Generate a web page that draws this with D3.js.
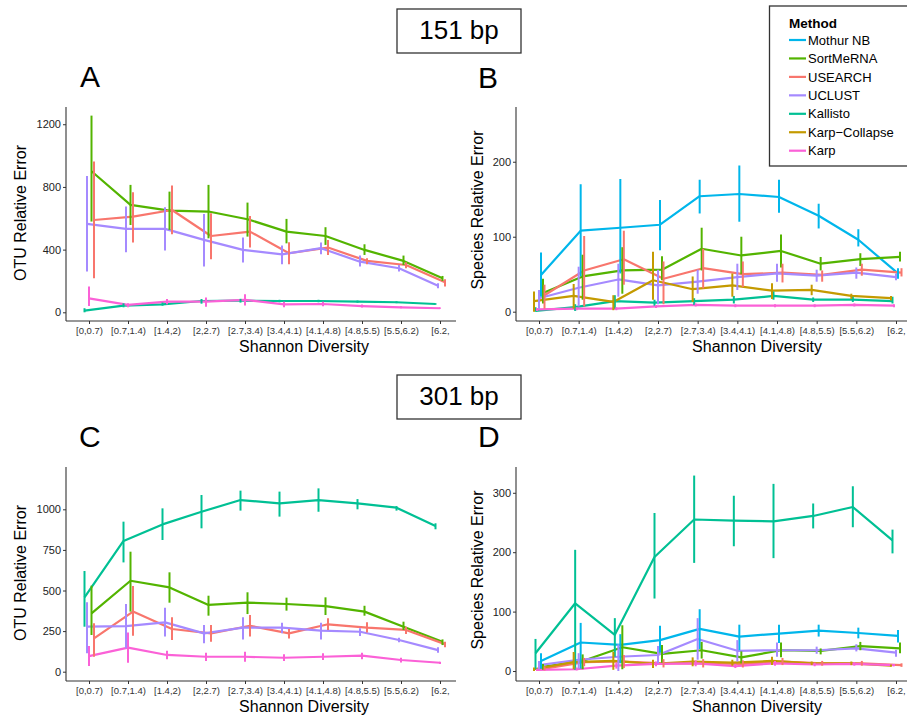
<!DOCTYPE html>
<html><head><meta charset="utf-8">
<script src="https://cdn.jsdelivr.net/npm/d3@7"></script>
<style>body{margin:0;background:#fff}svg{display:block;font-family:"Liberation Sans",Arial,sans-serif}</style>
</head><body><svg id="c" width="907" height="717"></svg>
<script>
// ---------- DATA ----------
const categories = ["[0,0.7)","[0.7,1.4)","[1.4,2)","[2,2.7)","[2.7,3.4)","[3.4,4.1)","[4.1,4.8)","[4.8,5.5)","[5.5,6.2)","[6.2,"];
const methods = ["Mothur NB","SortMeRNA","USEARCH","UCLUST","Kallisto","Karp-Collapse","Karp"];
const methodColors = ["#00B6EB","#53B400","#F8766D","#A58AFF","#00C094","#C49A00","#FB61D7"];
const yTicksA = [0,400,800,1200];
const yTicksB = [0,100,200];
const yTicksC = [0,250,500,750,1000];
const yTicksD = [0,100,200,300];

// each entry: [mean, low, high] per category
// Panel A: 151 bp, OTU relative error
const A_SortMeRNA = [[900,579,1255],[685,557,813],[649,526,770],[643,472,813],[594,483,700],[515,440,596],[487,430,543],[398,366,434],[328,302,362],[217,200,232]];
const A_USEARCH   = [[589,217,962],[611,445,766],[653,498,809],[487,338,632],[515,413,615],[377,306,447],[413,366,462],[328,306,345],[302,281,319],[192,164,211]];
const A_UCLUST    = [[564,260,870],[532,383,675],[532,394,670],[462,292,628],[398,317,477],[370,306,426],[409,370,445],[323,292,362],[281,260,302],[170,153,185]];
const A_Kallisto  = [[11,0,26],[43,32,57],[51,42,62],[72,55,85],[74,62,86],[72,64,80],[72,64,80],[68,61,75],[64,58,70],[53,48,58]];
const A_Karp      = [[89,40,164],[47,32,57],[68,51,85],[68,36,94],[79,43,115],[51,32,68],[53,38,68],[40,30,50],[32,26,38],[26,22,30]];

// Panel B: 151 bp, species relative error
const B_MothurNB   = [[49,20,79],[108,47,170],[112,51,177],[116,82,149],[154,131,176],[157,120,195],[153,132,176],[128,111,144],[96,87,110],[51,44,58]];
const B_SortMeRNA  = [[25,11,44],[47,16,76],[55,24,86],[56,42,74],[84,55,112],[75,50,100],[81,59,103],[64,55,73],[70,61,78],[73,67,80]];
const B_USEARCH    = [[22,4,36],[55,7,101],[70,36,108],[44,10,67],[58,31,84],[50,33,67],[52,39,64],[49,40,55],[56,48,64],[52,47,58]];
const B_UCLUST     = [[18,4,29],[32,7,60],[43,20,64],[35,10,56],[40,24,56],[46,29,64],[51,40,64],[48,40,56],[52,44,59],[46,42,51]];
const B_Kallisto   = [[1,0,6],[6,1,10],[14,4,22],[12,8,16],[14,9,18],[16,11,21],[21,16,27],[16,13,19],[16,13,20],[14,11,20]];
const B_KarpCollapse = [[14,0,27],[21,4,37],[13,2,22],[42,16,80],[30,13,47],[35,20,51],[28,17,38],[29,22,36],[21,17,24],[18,15,21]];
const B_Karp       = [[3,1,5],[4,2,6],[4,2,6],[7,5,9],[9,7,11],[8,6,10],[8,6,10],[8,6,10],[9,7,11],[8,6,10]];

// Panel C: 301 bp, OTU relative error
const C_SortMeRNA = [[359,226,530],[560,370,739],[519,425,612],[411,345,468],[425,355,489],[417,376,456],[404,349,458],[370,345,406],[277,257,308],[185,164,199]];
const C_USEARCH   = [[205,92,298],[370,222,528],[263,195,335],[236,185,287],[283,216,349],[236,205,263],[292,257,329],[271,242,304],[257,232,277],[170,150,185]];
const C_UCLUST    = [[277,113,427],[281,144,417],[304,216,394],[236,175,287],[271,199,335],[271,236,302],[253,199,302],[246,220,267],[195,181,209],[133,117,150]];
const C_Kallisto  = [[458,277,620],[805,673,924],[907,811,1006],[985,883,1088],[1057,992,1115],[1037,955,1109],[1057,985,1129],[1037,1000,1063],[1010,992,1020],[897,877,914]];
const C_Karp      = [[96,35,158],[148,55,242],[103,76,129],[92,66,117],[92,62,123],[86,66,107],[92,72,113],[99,76,117],[72,57,86],[55,48,62]];

// Panel D: 301 bp, species relative error
const D_MothurNB   = [[17,4,30],[48,4,81],[44,13,62],[52,31,76],[71,37,104],[58,35,78],[63,47,78],[68,58,78],[64,55,73],[59,48,69]];
const D_SortMeRNA  = [[7,2,12],[17,3,28],[40,3,77],[29,14,44],[35,21,49],[23,13,33],[35,23,48],[34,28,38],[42,35,49],[38,30,48]];
const D_USEARCH    = [[4,1,8],[15,8,22],[16,5,27],[13,6,20],[13,6,20],[12,6,18],[16,10,22],[13,9,17],[13,9,17],[10,7,13]];
const D_UCLUST     = [[10,3,17],[19,4,30],[24,0,45],[27,13,42],[54,19,89],[34,16,52],[35,24,48],[35,29,41],[38,33,45],[31,24,36]];
const D_Kallisto   = [[30,3,54],[114,2,204],[61,24,89],[192,122,266],[255,182,329],[253,210,295],[252,190,315],[261,240,282],[276,242,311],[220,198,238]];
const D_KarpCollapse = [[3,0,6],[15,3,32],[17,2,32],[12,5,19],[16,8,23],[14,9,19],[17,10,24],[13,10,16],[13,10,16],[9,7,11]];
const D_Karp       = [[2,0,4],[3,1,6],[9,4,14],[12,8,16],[13,8,18],[8,5,12],[13,9,17],[11,8,14],[12,9,15],[10,8,12]];

// ---------- LAYOUT / STYLE ----------
const svg = d3.select("#c");
const colorOf = d3.scaleOrdinal().domain(methods).range(methodColors);

const dodge5 = {"Kallisto":-4.5,"UCLUST":-2,"Karp":0,"SortMeRNA":2.5,"USEARCH":5};
const dodge7 = {"Karp-Collapse":-5,"Kallisto":-3.5,"Karp":-2,"UCLUST":0,"Mothur NB":2,"SortMeRNA":4,"USEARCH":5.5};

const panels = [
  {label:"A", lx:80, ly:87, ax0:66, ax1:456, ay0:107, ay1:321, dom:[-55.5,1310], ticks:yTicksA, pr:[89,440],
   ytitle:"OTU Relative Error", ytx:26, yty:213, xtx:304, dodge:dodge5,
   series:[["SortMeRNA",A_SortMeRNA],["USEARCH",A_USEARCH],["UCLUST",A_UCLUST],["Kallisto",A_Kallisto],["Karp",A_Karp]]},
  {label:"B", lx:478, ly:88, ax0:516, ax1:907, ay0:107, ay1:321, dom:[-12.4,273], ticks:yTicksB, pr:[539,896],
   ytitle:"Species Relative Error", ytx:483, yty:210, xtx:757, dodge:dodge7,
   series:[["Mothur NB",B_MothurNB],["SortMeRNA",B_SortMeRNA],["USEARCH",B_USEARCH],["UCLUST",B_UCLUST],["Kallisto",B_Kallisto],["Karp-Collapse",B_KarpCollapse],["Karp",B_Karp]]},
  {label:"C", lx:79, ly:447, ax0:66, ax1:456, ay0:467, ay1:681, dom:[-57.3,1260.6], ticks:yTicksC, pr:[89,440],
   ytitle:"OTU Relative Error", ytx:26, yty:573, xtx:304, dodge:dodge5,
   series:[["SortMeRNA",C_SortMeRNA],["USEARCH",C_USEARCH],["UCLUST",C_UCLUST],["Kallisto",C_Kallisto],["Karp",C_Karp]]},
  {label:"D", lx:478, ly:447, ax0:516, ax1:907, ay0:467, ay1:681, dom:[-16.8,343.4], ticks:yTicksD, pr:[539,896],
   ytitle:"Species Relative Error", ytx:483, yty:570, xtx:757, dodge:dodge7,
   series:[["Mothur NB",D_MothurNB],["SortMeRNA",D_SortMeRNA],["USEARCH",D_USEARCH],["UCLUST",D_UCLUST],["Kallisto",D_Kallisto],["Karp-Collapse",D_KarpCollapse],["Karp",D_Karp]]}
];

panels.forEach(p => {
  const g = svg.append("g");
  const x = d3.scalePoint().domain(categories).range(p.pr);
  const y = d3.scaleLinear().domain(p.dom).range([p.ay1, p.ay0]);

  // axes
  const yAxis = d3.axisLeft(y).tickValues(p.ticks).tickFormat(d3.format("d")).tickSize(3).tickPadding(2);
  const yg = g.append("g").attr("transform",`translate(${p.ax0},0)`).call(yAxis);
  yg.select(".domain").remove();
  yg.selectAll("line").attr("stroke","#333");
  yg.selectAll("text").attr("font-size","11px").attr("fill","#222").attr("font-family","Liberation Sans, Arial, sans-serif");
  g.append("line").attr("x1",p.ax0).attr("x2",p.ax0).attr("y1",p.ay0).attr("y2",p.ay1).attr("stroke","#333").attr("stroke-width",1.1);

  const xAxis = d3.axisBottom(x).tickSize(3).tickPadding(3);
  const xg = g.append("g").attr("transform",`translate(0,${p.ay1})`).call(xAxis);
  xg.select(".domain").remove();
  xg.selectAll("line").attr("stroke","#333");
  xg.selectAll("text").attr("font-size","9.5px").attr("fill","#333").attr("font-family","Liberation Sans, Arial, sans-serif");
  g.append("line").attr("x1",p.ax0).attr("x2",p.ax1).attr("y1",p.ay1).attr("y2",p.ay1).attr("stroke","#333").attr("stroke-width",1.1);

  // titles
  g.append("text").attr("x",p.xtx).attr("y",p.ay1+31).attr("text-anchor","middle").attr("font-size","16px").attr("fill","#000").text("Shannon Diversity");
  g.append("text").attr("transform",`translate(${p.ytx},${p.yty}) rotate(-90)`).attr("text-anchor","middle").attr("font-size","16px").attr("fill","#000").text(p.ytitle);
  g.append("text").attr("x",p.lx).attr("y",p.ly).attr("font-size","30px").attr("fill","#000").text(p.label);

  // series
  const line = d3.line().x(d => d.x).y(d => y(d.v[0]));
  const prepared = p.series.map(([m, arr]) => ({m, pts: arr.map((v,i) => ({v, x: x(categories[i]) + p.dodge[m]}))}));
  prepared.forEach(s => {
    g.append("path").datum(s.pts).attr("d", line).attr("fill","none")
      .attr("stroke", colorOf(s.m)).attr("stroke-width",2.2).attr("stroke-linejoin","round");
  });
  prepared.forEach(s => {
    g.selectAll(null).data(s.pts).enter().append("line")
      .attr("x1", d => d.x).attr("x2", d => d.x)
      .attr("y1", d => y(d.v[1])).attr("y2", d => y(d.v[2]))
      .attr("stroke", colorOf(s.m)).attr("stroke-width",2);
  });
});

// size boxes
[["151 bp",9,39],["301 bp",375,405]].forEach(([t,by,ty]) => {
  svg.append("rect").attr("x",397).attr("y",by).attr("width",124).attr("height",44)
    .attr("fill","#fff").attr("stroke","#333").attr("stroke-width",1.3);
  svg.append("text").attr("x",459).attr("y",ty).attr("text-anchor","middle").attr("font-size","26px").attr("fill","#000").text(t);
});

// legend
const lg = svg.append("g");
lg.append("rect").attr("x",769.5).attr("y",6).attr("width",145).attr("height",160).attr("fill","#fff").attr("stroke","#333").attr("stroke-width",1.3);
lg.append("text").attr("x",789).attr("y",28).attr("font-size","13.5px").attr("font-weight","bold").attr("fill","#000").text("Method");
const ly = d3.scalePoint().domain(methods).range([40,150.7]);
methods.forEach(m => {
  lg.append("line").attr("x1",789).attr("x2",806).attr("y1",ly(m)).attr("y2",ly(m)).attr("stroke",colorOf(m)).attr("stroke-width",2.2);
  lg.append("text").attr("x",808).attr("y",ly(m)+4.6).attr("font-size","13px").attr("fill","#000").text(m.replace("-","\u2212"));
});
</script></body></html>
